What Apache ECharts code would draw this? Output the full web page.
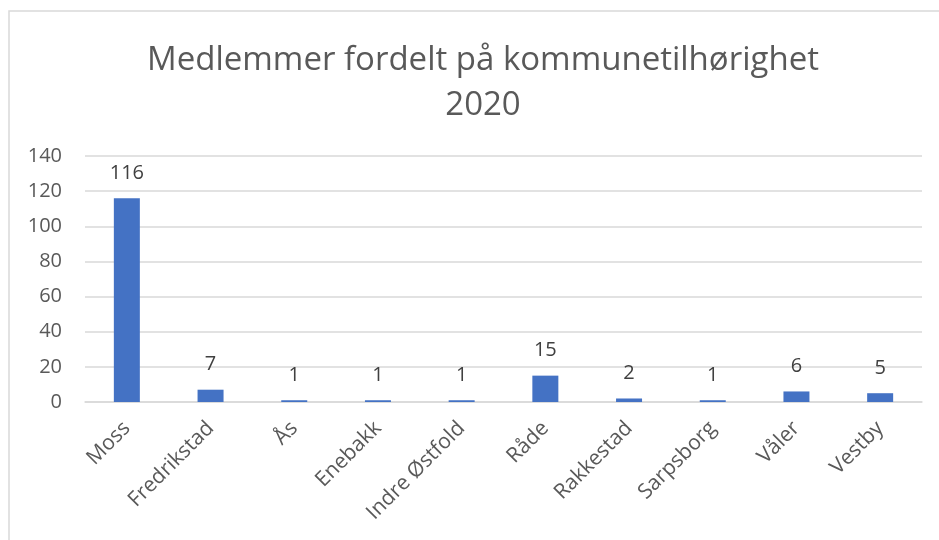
<!DOCTYPE html>
<html><head><meta charset="utf-8">
<script src="https://cdn.jsdelivr.net/npm/echarts@6/dist/echarts.min.js"></script>
<style>html,body{margin:0;padding:0;background:#fff}#c{width:939px;height:540px}</style>
</head><body><div id="c"></div>
<script>
const categories = ["Moss","Fredrikstad","Ås","Enebakk","Indre Østfold","Råde","Rakkestad","Sarpsborg","Våler","Vestby"];
const members = [116,7,1,1,1,15,2,1,6,5];
const yTicks = {min:0,max:140,interval:20};

const chart = echarts.init(document.getElementById('c'));
chart.setOption({
  animation:false,
  backgroundColor:'#fff',
  textStyle:{fontFamily:'"Open Sans", "Noto Sans", sans-serif'},
  graphic:[{type:'rect',shape:{x:9,y:11,width:960,height:560},style:{fill:'none',stroke:'#d9d9d9',lineWidth:1.5},silent:true}],
  title:{text:'Medlemmer fordelt på kommunetilhørighet\n2020',left:478,top:33,textAlign:'center',
    textStyle:{fontSize:33,fontWeight:'normal',color:'#595959',lineHeight:45,fontFamily:'"Open Sans", "Noto Sans", sans-serif'}},
  grid:{left:85,right:17,top:156,bottom:138,containLabel:false},
  xAxis:{type:'category',data:categories,
    axisLine:{lineStyle:{color:'#d9d9d9',width:1.5}},axisTick:{show:false},
    axisLabel:{rotate:45,fontSize:21,color:'#595959',margin:23,interval:0}},
  yAxis:{type:'value',min:yTicks.min,max:yTicks.max,interval:yTicks.interval,
    axisLine:{show:false},axisTick:{show:false},
    splitLine:{lineStyle:{color:'#d9d9d9',width:1.5}},
    axisLabel:{fontSize:20,color:'#595959',margin:23}},
  series:[{type:'bar',data:members,barWidth:26,itemStyle:{color:'#4472C4'},
    label:{show:true,position:'top',distance:15,fontSize:20,color:'#404040'}}]
});
</script></body></html>
